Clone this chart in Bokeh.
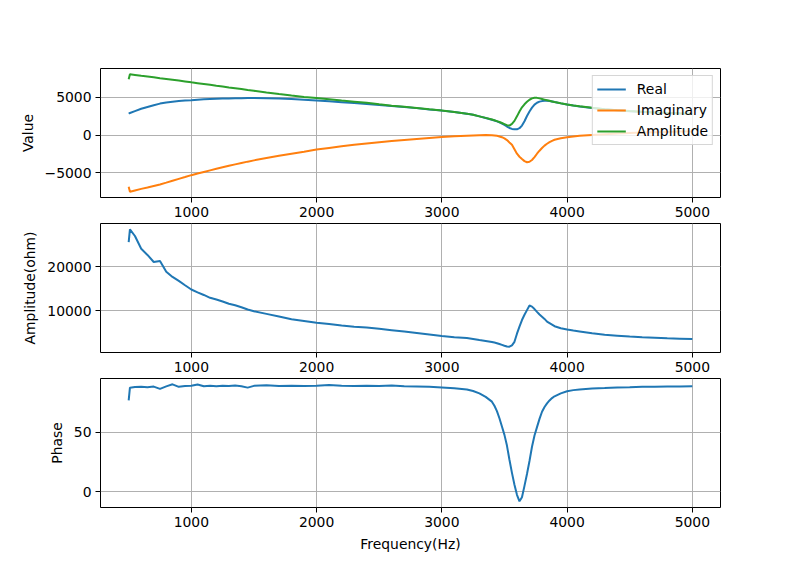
from bokeh.plotting import figure
from bokeh.models import Range1d, FixedTicker
from bokeh.layouts import column
from bokeh.embed import file_html
from bokeh.resources import INLINE

# ---------------- data ----------------
freq = [500, 510, 550, 600, 650, 700, 750, 800, 850, 900, 950, 1000, 1050, 1100, 1150, 1200,
        1250, 1300, 1350, 1400, 1450, 1500,
        1600, 1700, 1800, 1900, 2000, 2100, 2200, 2300, 2400, 2500, 2600, 2700, 2800, 2900,
        3000, 3100, 3200,
        3250, 3300, 3350, 3400,
        3420, 3440, 3460, 3480, 3500, 3520, 3540, 3560, 3580, 3600, 3620, 3640, 3660, 3680,
        3700, 3720, 3740, 3760, 3780, 3800, 3820, 3840, 3860, 3880, 3900,
        3950, 4000, 4050, 4100,
        4200, 4300, 4400, 4500, 4600, 4700, 4800, 4900, 5000]

real = [2870, 2950, 3200, 3500, 3750, 3980, 4190, 4330, 4440, 4530, 4600, 4640, 4700, 4750, 4790, 4820,
        4850, 4870, 4890, 4910, 4920, 4920,
        4900, 4860, 4790, 4700, 4610, 4500, 4380, 4260, 4140, 4000, 3870, 3730, 3590, 3420,
        3260, 3070, 2850,
        2700, 2500, 2290, 2060,
        1950, 1830, 1700, 1550, 1380, 1150, 960, 840, 790, 780, 930, 1280, 1850, 2550,
        3150, 3650, 4050, 4300, 4450, 4520, 4560, 4560, 4540, 4470, 4390,
        4220, 4070, 3940, 3820,
        3620, 3440, 3310, 3190, 3090, 3010, 2950, 2890, 2840]

imag = [-6830, -7490, -7320, -7110, -6920, -6720, -6520, -6280, -6030, -5780, -5540, -5290, -5080, -4870, -4660, -4450,
        -4250, -4050, -3860, -3680, -3500, -3330,
        -3020, -2730, -2450, -2180, -1900, -1680, -1470, -1270, -1090, -920, -760, -620, -490, -360,
        -240, -140, -60,
        -20, 10, 20, 0,
        -30, -80, -160, -260, -420, -640, -950, -1250, -1850, -2450, -2850, -3150, -3430, -3580,
        -3520, -3280, -2900, -2450, -2050, -1700, -1380, -1130, -920, -740, -600,
        -400, -260, -160, -80,
        40, 140, 220, 290, 350, 400, 440, 480, 510]

amp = [7420, 8070, 7990, 7880, 7780, 7670, 7560, 7460, 7350, 7240, 7130, 7010, 6900, 6790, 6680, 6560,
       6450, 6330, 6220, 6110, 5990, 5880,
       5660, 5450, 5250, 5080, 4920, 4760, 4600, 4450, 4300, 4100, 3920, 3760, 3600, 3430,
       3270, 3080, 2860,
       2700, 2500, 2300, 2080,
       1980, 1870, 1750, 1620, 1480, 1330, 1280, 1500, 1900, 2500, 3150, 3700, 4100, 4430,
       4700, 4880, 4960, 4950, 4880, 4800, 4720, 4640, 4560, 4480, 4400,
       4230, 4080, 3950, 3830,
       3630, 3450, 3320, 3200, 3100, 3020, 2960, 2900, 2850]

amp_ohm = [25600, 28500, 27000, 24100, 22700, 21100, 21300, 18900, 17700, 16800, 15800, 14840, 14200, 13600, 12950, 12550,
           12100, 11600, 11250, 10800, 10300, 9900,
           9300, 8700, 8100, 7700, 7300, 7000, 6650, 6400, 6200, 5900, 5600, 5300, 4950, 4600,
           4250, 4000, 3800,
           3600, 3350, 3150, 2900,
           2780, 2640, 2450, 2250, 2050, 1870, 1850, 2150, 2950, 4800, 6400, 7900, 9100, 10150,
           11200, 10950, 10400, 9750, 9150, 8650, 8150, 7550, 7200, 6850, 6500,
           6050, 5750, 5500, 5300,
           4900, 4550, 4350, 4150, 4000, 3880, 3760, 3660, 3570]

phase = [77.1, 87.8, 88.3, 88.6, 88.2, 88.7, 86.8, 88.9, 90.6, 88.5, 89.1, 89.4, 90.5, 89.0, 89.3, 88.9,
         89.4, 89.1, 89.5, 89.0, 87.8, 89.3,
         89.8, 89.1, 89.4, 89.2, 89.4, 90.1, 89.3, 89.2, 89.4, 89.1, 89.5, 89.0, 88.8, 88.5,
         87.9, 87.3, 86.3,
         85.0, 83.0, 80.0, 76.0,
         72.5, 68.0, 62.0, 55.0, 48.0, 39.0, 27.0, 16.0, 6.0, -2.5, -8.0, -4.5, 5.0, 15.0,
         26.0, 38.0, 47.5, 54.5, 61.5, 67.5, 71.5, 74.5, 77.0, 79.0, 80.5,
         83.0, 84.8, 85.7, 86.3,
         87.1, 87.5, 88.0, 88.2, 88.6, 88.5, 88.8, 88.7, 88.9]

x_ticks = [1000, 2000, 3000, 4000, 5000]
top_ticks = [-5000, 0, 5000]
mid_ticks = [10000, 20000]
bot_ticks = [0, 50]

BLUE, ORANGE, GREEN = "#1f77b4", "#ff7f0e", "#2ca02c"
FONT = "DejaVu Sans"
FS = "13.9px"


def make_fig(height, top, bottom, yr, yticks, ylabel, xlabel=None, overrides=None):
    p = figure(width=800, height=height,
               min_border_left=100, min_border_right=80,
               min_border_top=top, min_border_bottom=bottom,
               x_range=Range1d(275, 5225), y_range=Range1d(*yr),
               output_backend="svg", toolbar_location=None)
    p.background_fill_color = "white"
    p.border_fill_color = "white"
    p.outline_line_color = "black"
    p.outline_line_alpha = 1.0
    p.outline_line_width = 1
    p.xaxis.ticker = FixedTicker(ticks=x_ticks)
    p.yaxis.ticker = FixedTicker(ticks=yticks)
    if overrides:
        p.yaxis.major_label_overrides = overrides
    for ax in (p.xaxis, p.yaxis):
        ax.axis_line_color = None
        ax.major_tick_line_color = "black"
        ax.major_tick_out = 5
        ax.major_tick_in = 0
        ax.minor_tick_line_color = None
        ax.major_label_text_font = FONT
        ax.major_label_text_font_size = FS
        ax.major_label_text_color = "black"
        ax.major_label_standoff = 4
        ax.axis_label_text_font = FONT
        ax.axis_label_text_font_size = FS
        ax.axis_label_text_font_style = "normal"
        ax.axis_label_text_color = "black"
        ax.axis_label_standoff = 6
    p.yaxis.axis_label = ylabel
    if xlabel:
        p.xaxis.axis_label = xlabel
    p.grid.grid_line_color = "#b0b0b0"
    p.grid.grid_line_width = 1
    p.grid.grid_line_alpha = 1.0
    return p


p1 = make_fig(223, 68, 26, (-8250, 8840), top_ticks, "Value", overrides={-5000: "\u22125000"})
p1.line(freq, real, line_color=BLUE, line_width=2, legend_label="Real")
p1.line(freq, imag, line_color=ORANGE, line_width=2, legend_label="Imaginary")
p1.line(freq, amp, line_color=GREEN, line_width=2, legend_label="Amplitude")
lg = p1.legend[0]
lg.location = "top_right"
lg.margin = 7
lg.padding = 4
lg.spacing = 3
lg.label_height = 18
lg.glyph_height = 18
lg.glyph_width = 29
lg.label_standoff = 11
lg.label_text_font = FONT
lg.label_text_font_size = FS
lg.label_text_color = "black"
lg.background_fill_color = "white"
lg.background_fill_alpha = 0.8
lg.border_line_color = "#cccccc"
lg.border_line_alpha = 0.8
lg.border_line_width = 1

p2 = make_fig(155, 0, 26, (521, 29842), mid_ticks, "Amplitude(ohm)")
p2.line(freq, amp_ohm, line_color=BLUE, line_width=2)

p3 = make_fig(192, 0, 63, (-13.2, 95.5), bot_ticks, "Phase", xlabel="Frequency(Hz)")
p3.line(freq, phase, line_color=BLUE, line_width=2)

layout = column(p1, p2, p3, spacing=0)
open("out.html", "w").write(file_html(layout, INLINE))
